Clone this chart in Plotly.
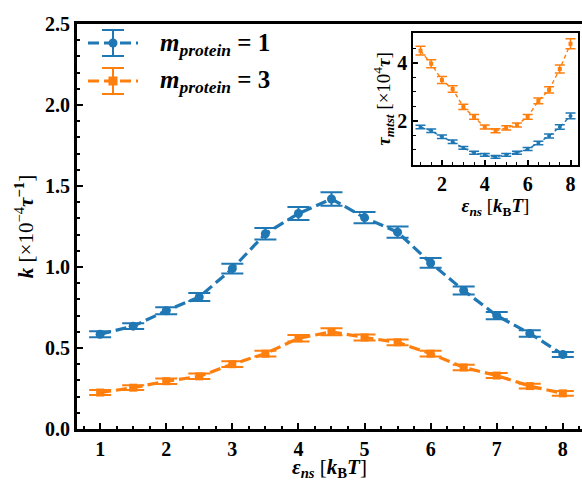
import plotly.graph_objects as go

eps = [1.0, 1.5, 2.0, 2.5, 3.0, 3.5, 4.0, 4.5, 5.0, 5.5, 6.0, 6.5, 7.0, 7.5, 8.0]

k_m1 = [0.585, 0.635, 0.73, 0.815, 0.99, 1.205, 1.33, 1.42, 1.305, 1.215, 1.025, 0.855, 0.70, 0.59, 0.46]
k_m1_err = [0.018, 0.018, 0.022, 0.025, 0.03, 0.035, 0.04, 0.042, 0.035, 0.035, 0.03, 0.025, 0.022, 0.02, 0.015]
k_m3 = [0.225, 0.255, 0.295, 0.325, 0.40, 0.465, 0.56, 0.60, 0.565, 0.535, 0.465, 0.38, 0.33, 0.265, 0.22]
k_m3_err = [0.015, 0.015, 0.017, 0.017, 0.018, 0.018, 0.02, 0.022, 0.018, 0.018, 0.018, 0.017, 0.015, 0.015, 0.015]

tau_m1 = [1.79, 1.66, 1.45, 1.28, 1.07, 0.90, 0.83, 0.76, 0.83, 0.90, 1.03, 1.24, 1.48, 1.79, 2.17]
tau_m1_err = [0.06, 0.06, 0.06, 0.06, 0.05, 0.05, 0.05, 0.05, 0.05, 0.05, 0.05, 0.06, 0.07, 0.08, 0.1]
tau_m3 = [4.42, 3.97, 3.41, 3.10, 2.48, 2.14, 1.79, 1.66, 1.76, 1.86, 2.14, 2.69, 3.07, 3.79, 4.66]
tau_m3_err = [0.15, 0.14, 0.12, 0.11, 0.09, 0.08, 0.07, 0.07, 0.07, 0.07, 0.08, 0.1, 0.11, 0.14, 0.17]

legend_labels = ["1", "3"]

BLUE = "#1f77b4"
ORANGE = "#ff7f0e"
FONT = "Liberation Serif"

W, H = 582, 481
L, R, T, B = 77, 0, 24, 52
PW, PH = W - L - R, H - T - B


def px(xp):
    return (xp - L) / PW


def py(yp):
    return (H - B - yp) / PH


fig = go.Figure()

fig.add_trace(go.Scatter(
    x=eps, y=k_m1, mode="lines+markers",
    line=dict(color=BLUE, width=3.2, dash="11px,5px"),
    marker=dict(symbol="circle", size=9, color=BLUE),
    error_y=dict(type="data", array=k_m1_err, color=BLUE, thickness=2, width=11),
    showlegend=False))
fig.add_trace(go.Scatter(
    x=eps, y=k_m3, mode="lines+markers",
    line=dict(color=ORANGE, width=3.2, dash="11px,5px"),
    marker=dict(symbol="square", size=8, color=ORANGE),
    error_y=dict(type="data", array=k_m3_err, color=ORANGE, thickness=2, width=11),
    showlegend=False))

fig.add_trace(go.Scatter(
    x=eps, y=tau_m1, mode="lines+markers", xaxis="x2", yaxis="y2",
    line=dict(color=BLUE, width=1.4, dash="4px,3px"),
    marker=dict(symbol="circle", size=4, color=BLUE),
    error_y=dict(type="data", array=tau_m1_err, color=BLUE, thickness=1.5, width=5),
    showlegend=False))
fig.add_trace(go.Scatter(
    x=eps, y=tau_m3, mode="lines+markers", xaxis="x2", yaxis="y2",
    line=dict(color=ORANGE, width=1.4, dash="4px,3px"),
    marker=dict(symbol="square", size=4, color=ORANGE),
    error_y=dict(type="data", array=tau_m3_err, color=ORANGE, thickness=1.5, width=5),
    showlegend=False))

tickfont = dict(family=FONT, size=20, color="black", weight="bold")
titlefont = dict(family=FONT, size=21, color="black")

fig.update_layout(
    width=W, height=H,
    margin=dict(l=L, r=R, t=T, b=B, autoexpand=False),
    paper_bgcolor="white", plot_bgcolor="white",
    font=dict(family=FONT, color="black"),
    xaxis=dict(
        range=[0.65, 8.29], domain=[0, 1], automargin=False,
        tickvals=[1, 2, 3, 4, 5, 6, 7, 8],
        ticks="inside", ticklen=6, tickwidth=2, tickcolor="black",
        minor=dict(dtick=0.25, ticks="inside", ticklen=3, tickwidth=1.5, tickcolor="black"),
        showline=True, linewidth=3, linecolor="black", mirror=True,
        showgrid=False, zeroline=False,
        tickfont=tickfont,
        title=dict(text="<b><i>ε<sub>ns</sub></i></b> [<b><i>k</i></b><sub><b>B</b></sub><b><i>T</i></b>]",
                   font=titlefont, standoff=2),
    ),
    yaxis=dict(
        range=[0, 2.5], domain=[0, 1], automargin=False,
        dtick=0.5, tickformat=".1f",
        ticks="inside", ticklen=6, tickwidth=2, tickcolor="black",
        minor=dict(dtick=0.1, ticks="inside", ticklen=3, tickwidth=1.5, tickcolor="black"),
        showline=True, linewidth=3, linecolor="black", mirror=False,
        showgrid=False, zeroline=False,
        tickfont=tickfont,
        title=dict(text="<b><i>k</i></b> [×10<sup>−4</sup><b><i>τ</i></b><sup><b>−1</b></sup>]",
                   font=titlefont, standoff=6),
    ),
    xaxis2=dict(
        domain=[px(413), px(578)], anchor="y2", automargin=False,
        range=[0.65, 8.35], tickvals=[2, 4, 6, 8],
        ticks="inside", ticklen=5, tickwidth=1.5, tickcolor="black",
        minor=dict(dtick=0.5, ticks="inside", ticklen=3, tickwidth=1, tickcolor="black"),
        showline=True, linewidth=1.5, linecolor="black", mirror=True,
        showgrid=False, zeroline=False,
        tickfont=dict(family=FONT, size=20, color="black", weight="bold"),
        title=dict(text="<b><i>ε<sub>ns</sub></i></b> [<b><i>k</i></b><sub><b>B</b></sub><b><i>T</i></b>]",
                   font=dict(family=FONT, size=19, color="black"), standoff=0),
    ),
    yaxis2=dict(
        domain=[py(165), py(33)], anchor="x2", automargin=False,
        range=[0.48, 5.03], tickvals=[2, 4],
        ticks="inside", ticklen=5, tickwidth=1.5, tickcolor="black",
        minor=dict(dtick=0.5, ticks="inside", ticklen=3, tickwidth=1, tickcolor="black"),
        showline=True, linewidth=1.5, linecolor="black", mirror=True,
        showgrid=False, zeroline=False,
        tickfont=dict(family=FONT, size=20, color="black", weight="bold"),
        title=dict(text="<b><i>τ<sub>mtst</sub></i></b> [×10<sup>4</sup><b><i>τ</i></b>]",
                   font=dict(family=FONT, size=19, color="black"), standoff=2),
    ),
)

# Manual legend (samples drawn as shapes, labels as text)
shapes = []
annotations = []
for i, (col, sym, lab) in enumerate([(BLUE, "circle", legend_labels[0]), (ORANGE, "square", legend_labels[1])]):
    yc = 43 + i * 38
    shapes.append(dict(type="line", xref="paper", yref="paper",
                       x0=px(88), x1=px(138), y0=py(yc), y1=py(yc),
                       line=dict(color=col, width=3.2, dash="11px,5px")))
    shapes.append(dict(type="line", xref="paper", yref="paper",
                       x0=px(113), x1=px(113), y0=py(yc - 13), y1=py(yc + 13),
                       line=dict(color=col, width=2)))
    for dy in (-13, 13):
        shapes.append(dict(type="line", xref="paper", yref="paper",
                           x0=px(102), x1=px(124), y0=py(yc + dy), y1=py(yc + dy),
                           line=dict(color=col, width=2)))
    shapes.append(dict(type=sym == "circle" and "circle" or "rect", xref="paper", yref="paper",
                       x0=px(108.5), x1=px(117.5), y0=py(yc - 4.5), y1=py(yc + 4.5),
                       fillcolor=col, line=dict(color=col, width=0)))
    annotations.append(dict(
        xref="paper", yref="paper", x=px(158), y=py(yc + 1), xanchor="left", yanchor="middle",
        showarrow=False,
        text="<b><i>m<sub>protein</sub></i></b><b> = " + lab + "</b>",
        font=dict(family=FONT, size=25, color="black")))

fig.update_layout(shapes=shapes, annotations=annotations)

fig.write_html("out.html",
               config={"displayModeBar": False},
               post_script="document.body.style.margin='0';document.body.style.overflow='hidden';")
